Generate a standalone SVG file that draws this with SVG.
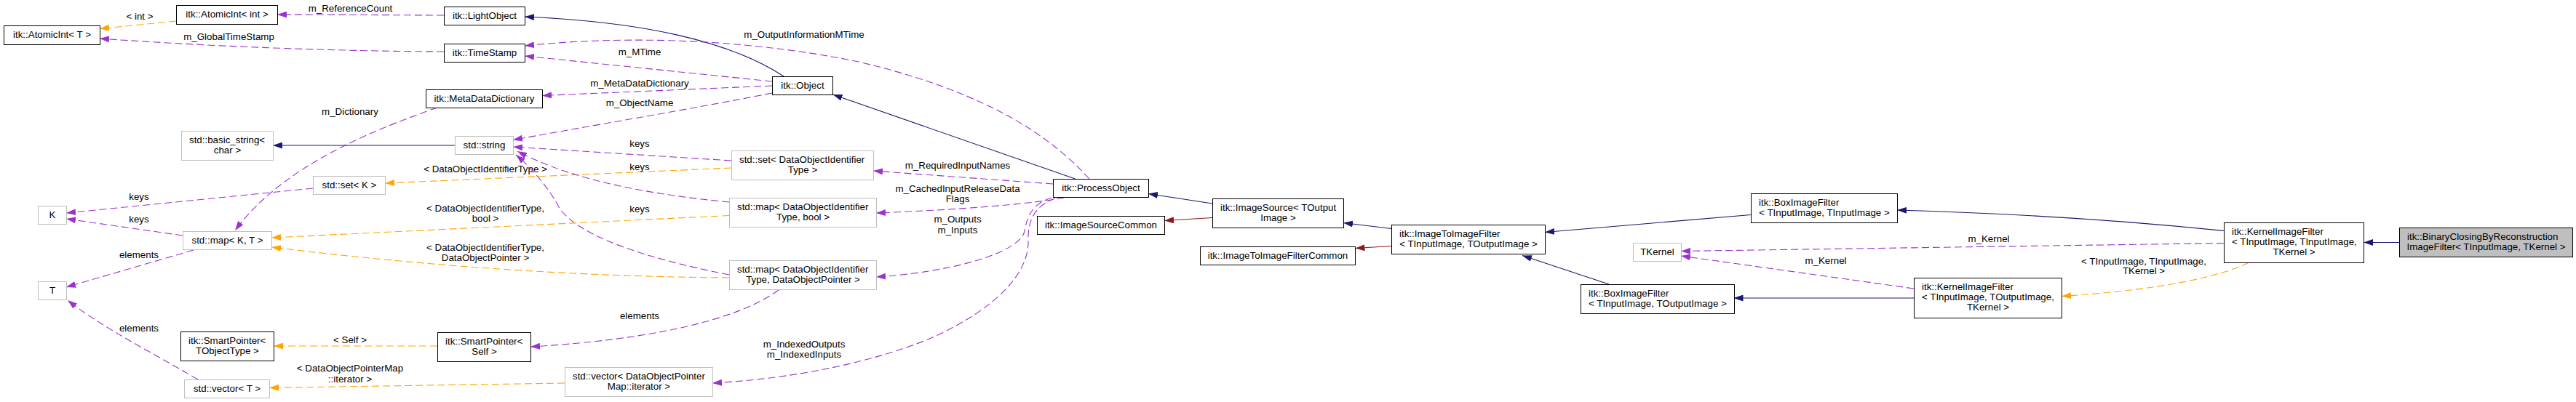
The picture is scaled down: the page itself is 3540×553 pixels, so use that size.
<svg xmlns="http://www.w3.org/2000/svg" width="3540" height="553" viewBox="0 0 3540 553">
<defs>
<style>
text{font-family:"Liberation Sans",Arial,Helvetica,sans-serif;font-size:13.33px;fill:#000}
.c{text-anchor:middle}
.node rect{fill:#fff;stroke:#000;stroke-width:1}
.node.ext rect{stroke:#bfbfbf}
.node.main rect{fill:#bfbfbf;stroke:#000}
.use{fill:none;stroke:#9a32cd;stroke-width:1.1;stroke-dasharray:10,5;marker-end:url(#ap)}
.tpl{fill:none;stroke:#ffa500;stroke-width:1.1;stroke-dasharray:10,5;marker-end:url(#ao)}
.inh{fill:none;stroke:#191970;stroke-width:1.1;marker-end:url(#an)}
.priv{fill:none;stroke:#8b1a1a;stroke-width:1.1;marker-end:url(#ar)}
</style>
<marker id="ap" viewBox="0 0 13 9" refX="13" refY="4.5" markerWidth="13" markerHeight="9" orient="auto" markerUnits="userSpaceOnUse"><path d="M0,0 L13,4.5 L0,9 z" fill="#9a32cd"/></marker>
<marker id="ao" viewBox="0 0 13 9" refX="13" refY="4.5" markerWidth="13" markerHeight="9" orient="auto" markerUnits="userSpaceOnUse"><path d="M0,0 L13,4.5 L0,9 z" fill="#ffa500"/></marker>
<marker id="an" viewBox="0 0 13 9" refX="13" refY="4.5" markerWidth="13" markerHeight="9" orient="auto" markerUnits="userSpaceOnUse"><path d="M0,0 L13,4.5 L0,9 z" fill="#191970"/></marker>
<marker id="ar" viewBox="0 0 13 9" refX="13" refY="4.5" markerWidth="13" markerHeight="9" orient="auto" markerUnits="userSpaceOnUse"><path d="M0,0 L13,4.5 L0,9 z" fill="#8b1a1a"/></marker>
</defs>
<rect x="0" y="0" width="3540" height="553" fill="#fff"/>

<g id="connectors">
 <g id="e1"><path class="tpl" d="M242,29 L137,39.5"/><text class="c" x="192" y="27">&lt; int &gt;</text></g>
 <g id="e2"><path class="use" d="M610,71 Q380,70 137,53"/><text class="c" x="314.5" y="55">m_GlobalTimeStamp</text></g>
 <g id="e3"><path class="use" d="M610,21 L381,20"/><text class="c" x="481.5" y="16">m_ReferenceCount</text></g>
 <g id="e4"><path class="inh" d="M1077,105 C1000,55 880,30 721,23"/></g>
 <g id="e5"><path class="use" d="M1061,112 L721,77"/><text class="c" x="879" y="76">m_MTime</text></g>
 <g id="e6"><path class="use" d="M1061,118 L745,131.5"/><text class="c" x="879" y="119">m_MetaDataDictionary</text></g>
 <g id="e7"><path class="use" d="M1061,128 C950,150 800,175 705,192.5"/><text class="c" x="879" y="146">m_ObjectName</text></g>
 <g id="e8"><path class="use" d="M601,148 C480,190 380,240 323,317"/><text class="c" x="481" y="158">m_Dictionary</text></g>
 <g id="e9"><path class="inh" d="M625,200 L375,200"/></g>
 <g id="e10"><path class="use" d="M1005,221 L705,202"/><text class="c" x="879" y="202">keys</text></g>
 <g id="e11"><path class="tpl" d="M1005,231 L529,252"/><text class="c" x="667" y="237">&lt; DataObjectIdentifierType &gt;</text></g>
 <g id="e12"><path class="use" d="M1002,278 C900,268 790,250 711,208"/><text class="c" x="879" y="234">keys</text></g>
 <g id="e13"><path class="use" d="M1002,378 C870,352 790,320 768,285 C758,265 735,235 709,213"/><text class="c" x="879" y="292">keys</text></g>
 <g id="e14"><path class="tpl" d="M1002,296.5 L373,327"/><text class="c" x="667" y="291">&lt; DataObjectIdentifierType,</text><text class="c" x="667" y="305">bool &gt;</text></g>
 <g id="e15"><path class="tpl" d="M1002,382 Q700,380 373,340"/><text class="c" x="667" y="345">&lt; DataObjectIdentifierType,</text><text class="c" x="667" y="359">DataObjectPointer &gt;</text></g>
 <g id="e16"><path class="use" d="M1070,399 C1000,450 850,470 729,477"/><text class="c" x="879" y="439">elements</text></g>
 <g id="e17"><path class="tpl" d="M601,476 L376,476"/><text class="c" x="481" y="472">&lt; Self &gt;</text></g>
 <g id="e18"><path class="tpl" d="M776,527 L370,533.5"/><text class="c" x="481" y="511">&lt; DataObjectPointerMap</text><text class="c" x="481" y="526">::iterator &gt;</text></g>
 <g id="e19"><path class="use" d="M251,324 L91,301"/><text class="c" x="191" y="306">keys</text></g>
 <g id="e20"><path class="use" d="M430,259 L91,293"/><text class="c" x="191" y="275">keys</text></g>
 <g id="e21"><path class="use" d="M266,344 L91,395"/><text class="c" x="191" y="355">elements</text></g>
 <g id="e22"><path class="use" d="M272,522 C200,480 140,450 93,413"/><text class="c" x="191" y="456">elements</text></g>
 <g id="e23"><path class="use" d="M1497,246 C1450,195 1370,130 1180,85 C1050,58 880,46 721,63"/><text class="c" x="1105" y="52">m_OutputInformationMTime</text></g>
 <g id="e24"><path class="use" d="M1447,253 L1200,235"/><text class="c" x="1316" y="232">m_RequiredInputNames</text></g>
 <g id="e25"><path class="use" d="M1462,272 C1420,280 1330,288 1204,293"/><text class="c" x="1316" y="264">m_CachedInputReleaseData</text><text class="c" x="1316" y="278">Flags</text></g>
 <g id="e26"><path class="use" d="M1445,272 C1420,280 1412,295 1408,318 C1400,350 1300,375 1204,381"/><text class="c" x="1316" y="306">m_Outputs</text><text class="c" x="1316" y="321">m_Inputs</text></g>
 <g id="e27"><path class="use" d="M1450,273 C1425,282 1412,300 1413,330 C1415,380 1360,430 1275,467 C1200,497 1100,520 979,527"/><text class="c" x="1105" y="478">m_IndexedOutputs</text><text class="c" x="1105" y="492">m_IndexedInputs</text></g>
 <g id="e28"><path class="inh" d="M1477.5,246 L1144.5,130"/></g>
 <g id="e29"><path class="inh" d="M1666,280 L1578,266.5"/></g>
 <g id="e30"><path class="priv" d="M1666,299.5 L1600,303.5"/></g>
 <g id="e31"><path class="inh" d="M1912,314.5 L1846,306.5"/></g>
 <g id="e32"><path class="priv" d="M1912,338.5 L1862.5,341.5"/></g>
 <g id="e33"><path class="inh" d="M2211,391 L2092,351.5"/></g>
 <g id="e34"><path class="inh" d="M2406,295.5 L2123,319.5"/></g>
 <g id="e35"><path class="inh" d="M2630,410 L2382.5,410"/></g>
 <g id="e36"><path class="use" d="M2630,397 L2310,352"/><text class="c" x="2509" y="363">m_Kernel</text></g>
 <g id="e37"><path class="use" d="M3056,334.5 L2310,345.5"/><text class="c" x="2733" y="333">m_Kernel</text></g>
 <g id="e38"><path class="inh" d="M3056,317.5 Q2850,296 2607,289"/></g>
 <g id="e39"><path class="tpl" d="M3090,361.5 C3040,385 2950,400 2833,407.5"/><text class="c" x="2946" y="364">&lt; TInputImage, TInputImage,</text><text class="c" x="2946" y="377">TKernel &gt;</text></g>
 <g id="e40"><path class="inh" d="M3297,333.5 L3248,333.5"/></g>
</g>

<g id="n-atomicT" class="node"><rect x="5.5" y="35.5" width="132" height="26"/><text class="c" x="71.5" y="52">itk::AtomicInt&lt; T &gt;</text></g>
<g id="n-atomicInt" class="node"><rect x="242.5" y="7.5" width="139" height="26"/><text class="c" x="312" y="24">itk::AtomicInt&lt; int &gt;</text></g>
<g id="n-lightobject" class="node"><rect x="610.5" y="9.5" width="111" height="25"/><text class="c" x="666" y="26">itk::LightObject</text></g>
<g id="n-timestamp" class="node"><rect x="610.5" y="60.5" width="111" height="25"/><text class="c" x="666" y="77">itk::TimeStamp</text></g>
<g id="n-metadict" class="node"><rect x="585.5" y="123.5" width="160" height="25"/><text class="c" x="665.5" y="140">itk::MetaDataDictionary</text></g>
<g id="n-basicstring" class="node ext"><rect x="249.5" y="180.5" width="126" height="40"/><text x="260" y="197">std::basic_string&lt;</text><text class="c" x="312.5" y="211">char &gt;</text></g>
<g id="n-string" class="node ext"><rect x="625.5" y="187.5" width="80" height="25"/><text class="c" x="665.5" y="204">std::string</text></g>
<g id="n-setK" class="node ext"><rect x="430.5" y="242.5" width="99" height="25"/><text class="c" x="480" y="259">std::set&lt; K &gt;</text></g>
<g id="n-K" class="node ext"><rect x="52.5" y="283.5" width="39" height="25"/><text class="c" x="72" y="300">K</text></g>
<g id="n-mapKT" class="node ext"><rect x="251.5" y="318.5" width="122" height="25"/><text class="c" x="312.5" y="335">std::map&lt; K, T &gt;</text></g>
<g id="n-T" class="node ext"><rect x="52.5" y="387.5" width="39" height="25"/><text class="c" x="72" y="404">T</text></g>
<g id="n-spTObj" class="node"><rect x="248.5" y="456.5" width="128" height="40"/><text x="259" y="473">itk::SmartPointer&lt;</text><text class="c" x="312.5" y="487">TObjectType &gt;</text></g>
<g id="n-vecT" class="node ext"><rect x="253.5" y="522.5" width="117" height="25"/><text class="c" x="312" y="539">std::vector&lt; T &gt;</text></g>
<g id="n-spSelf" class="node"><rect x="601.5" y="457.5" width="128" height="40"/><text x="612" y="474">itk::SmartPointer&lt;</text><text class="c" x="665.5" y="488">Self &gt;</text></g>
<g id="n-vecIter" class="node ext"><rect x="776.5" y="505.5" width="203" height="40"/><text x="787" y="522">std::vector&lt; DataObjectPointer</text><text class="c" x="878" y="536">Map::iterator &gt;</text></g>
<g id="n-object" class="node"><rect x="1061.5" y="105.5" width="83" height="25"/><text class="c" x="1103" y="122">itk::Object</text></g>
<g id="n-setDOIT" class="node ext"><rect x="1005.5" y="207.5" width="195" height="40"/><text x="1016" y="224">std::set&lt; DataObjectIdentifier</text><text class="c" x="1103" y="238">Type &gt;</text></g>
<g id="n-mapBool" class="node ext"><rect x="1002.5" y="272.5" width="202" height="40"/><text x="1013" y="289">std::map&lt; DataObjectIdentifier</text><text class="c" x="1103.5" y="303">Type, bool &gt;</text></g>
<g id="n-mapDOP" class="node ext"><rect x="1002.5" y="358.5" width="202" height="40"/><text x="1013" y="375">std::map&lt; DataObjectIdentifier</text><text class="c" x="1103.5" y="389">Type, DataObjectPointer &gt;</text></g>
<g id="n-process" class="node"><rect x="1447.5" y="246.5" width="131" height="25"/><text class="c" x="1513" y="263">itk::ProcessObject</text></g>
<g id="n-imgSrcCommon" class="node"><rect x="1425.5" y="297.5" width="175" height="25"/><text class="c" x="1513" y="314">itk::ImageSourceCommon</text></g>
<g id="n-imgSrc" class="node"><rect x="1666.5" y="273.5" width="180" height="40"/><text x="1677" y="290">itk::ImageSource&lt; TOutput</text><text class="c" x="1756.5" y="304">Image &gt;</text></g>
<g id="n-i2iCommon" class="node"><rect x="1649.5" y="339.5" width="213" height="25"/><text class="c" x="1756" y="356">itk::ImageToImageFilterCommon</text></g>
<g id="n-i2i" class="node"><rect x="1912.5" y="309.5" width="211" height="40"/><text x="1923" y="326">itk::ImageToImageFilter</text><text class="c" x="2018" y="340">&lt; TInputImage, TOutputImage &gt;</text></g>
<g id="n-tkernel" class="node ext"><rect x="2244.5" y="334.5" width="66" height="25"/><text class="c" x="2277.5" y="351">TKernel</text></g>
<g id="n-boxTO" class="node"><rect x="2172.5" y="391.5" width="211" height="40"/><text x="2183" y="408">itk::BoxImageFilter</text><text class="c" x="2278" y="422">&lt; TInputImage, TOutputImage &gt;</text></g>
<g id="n-boxTI" class="node"><rect x="2406.5" y="266.5" width="201" height="40"/><text x="2417" y="283">itk::BoxImageFilter</text><text class="c" x="2507" y="297">&lt; TInputImage, TInputImage &gt;</text></g>
<g id="n-kernelTO" class="node"><rect x="2630.5" y="382.5" width="203" height="55"/><text x="2641" y="398.5">itk::KernelImageFilter</text><text x="2641" y="412.8">&lt; TInputImage, TOutputImage,</text><text class="c" x="2732" y="427">TKernel &gt;</text></g>
<g id="n-kernelTI" class="node"><rect x="3056.5" y="306.5" width="192" height="55"/><text x="3067" y="322.5">itk::KernelImageFilter</text><text x="3067" y="336.8">&lt; TInputImage, TInputImage,</text><text class="c" x="3152.5" y="351">TKernel &gt;</text></g>
<g id="n-binary" class="node main"><rect x="3297.5" y="313.5" width="238" height="40"/><text x="3308" y="330">itk::BinaryClosingByReconstruction</text><text class="c" x="3416.5" y="344">ImageFilter&lt; TInputImage, TKernel &gt;</text></g>
</svg>
